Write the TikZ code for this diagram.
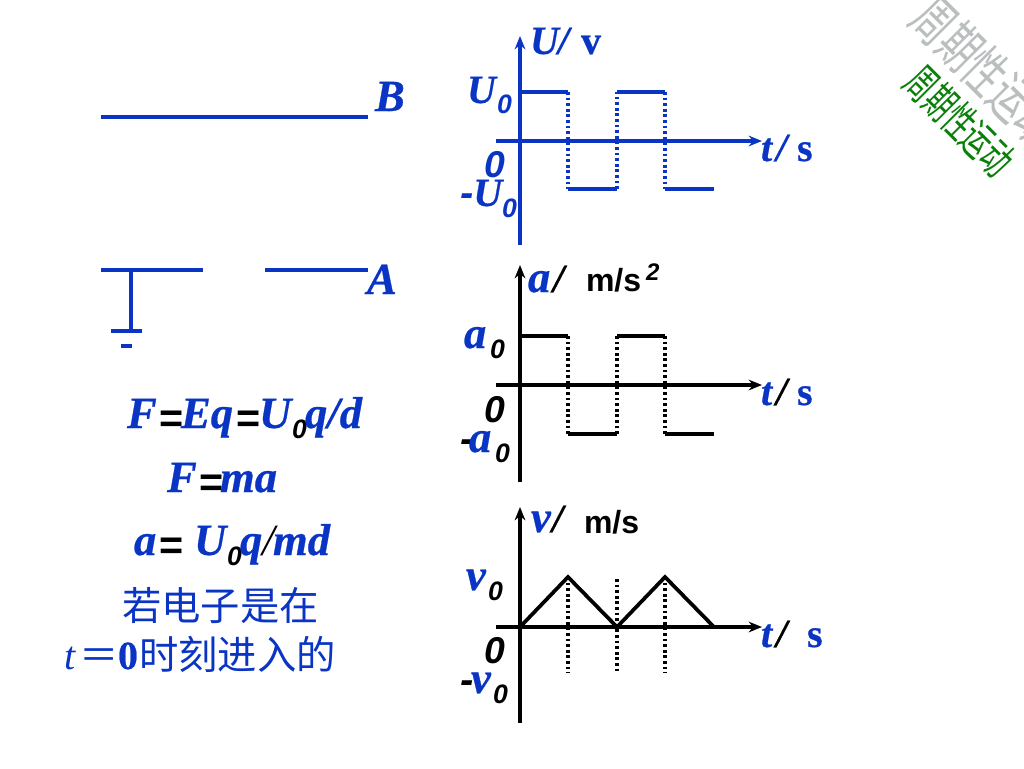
\documentclass[tikz,border=0pt]{standalone}
\usepackage{fontspec}
\setmainfont{Liberation Serif}[BoldItalicFeatures={FakeBold=0.6},BoldFeatures={FakeBold=0.6}]
\newfontfamily\sanf{Liberation Sans}
\newfontfamily\cjkf{Noto Sans CJK SC}
\definecolor{bl}{HTML}{0A35C4}
\definecolor{wgray}{HTML}{B9BEBE}
\definecolor{wgreen}{HTML}{0A800A}
\newcommand{\szA}{\fontsize{30}{30}\selectfont}
\newcommand{\szB}{\fontsize{20}{20}\selectfont}
\newcommand{\szC}{\fontsize{28}{28}\selectfont}
\newcommand{\szF}{\fontsize{33.5}{34}\selectfont}
\newcommand{\szU}{\fontsize{24}{24}\selectfont}
\newcommand{\szH}{\fontsize{29.5}{30}\selectfont}
\newcommand{\bi}[1]{{\color{bl}\bfseries\itshape #1}}
\newcommand{\bu}[1]{{\color{bl}\bfseries #1}}
\newcommand{\zs}[1]{{\sanf\bfseries\itshape #1}}
\newcommand{\bs}[1]{{\sanf\bfseries #1}}
\usetikzlibrary{arrows.meta}
\tikzset{
 lbl/.style={anchor=base west,inner sep=0pt,outer sep=0pt,font=\szA},
 bluelab/.style={lbl,text=bl},
 blacklab/.style={lbl,text=black},
 formula/.style={bluelab,font=\szF},
 eqsign/.style={blacklab,font=\sanf\bfseries\fontsize{31}{31}\selectfont},
 plate/.style={draw=bl,line width=3.4pt},
 thinplate/.style={draw=bl,line width=2.6pt},
 axisb/.style={draw=bl,line width=2.5pt,-{Stealth[length=10pt,width=8pt]}},
 axisk/.style={draw=black,line width=2.5pt,-{Stealth[length=10pt,width=8pt]}},
 wavB/.style={draw=bl,line width=2.8pt},
 wavK/.style={draw=black,line width=2.8pt},
 dotB/.style={draw=bl,line width=2.6pt,dash pattern=on 2.1pt off 2.1pt},
 dotK/.style={draw=black,line width=2.6pt,dash pattern=on 2.1pt off 2.1pt},
}
\begin{document}
\begin{tikzpicture}[x=0.75pt,y=-0.75pt]
\useasboundingbox (0,0) rectangle (1024,768);
% watermark
\node[inner sep=0pt,text=wgray,rotate=-45,font=\cjkf\fontsize{41}{41}\selectfont,xscale=0.66] (wm1) at (986,72) {周期性运动};
\node[inner sep=0pt,text=wgreen,rotate=-45,font=\cjkf\fontsize{32}{32}\selectfont,xscale=0.62] (wm2) at (960,121) {周期性运动};
% plates
\coordinate (b1) at (101,117); \coordinate (b2) at (368,117);
\coordinate (a1) at (101,270); \coordinate (a2) at (203,270);
\coordinate (a3) at (265,270); \coordinate (a4) at (368,270);
\coordinate (s1) at (131,270); \coordinate (s2) at (131,331);
\coordinate (g1) at (111,331); \coordinate (g2) at (142,331);
\coordinate (m1) at (121,346); \coordinate (m2) at (132,346);
\draw[plate] (b1)--(b2);
\draw[plate] (a1)--(a2);
\draw[plate] (a3)--(a4);
\draw[thinplate] (s1)--(s2);
\draw[thinplate] (g1)--(g2);
\draw[thinplate] (m1)--(m2);
\node[formula] (lB) at (375,111) {\bi{B}};
\node[formula] (lA) at (367,294) {\bi{A}};
% graph 1
\coordinate (o1b) at (520,245); \coordinate (o1t) at (520,36);
\coordinate (o1l) at (496,141); \coordinate (o1r) at (762,141);
\draw[axisb] (o1b)--(o1t);
\draw[axisb] (o1l)--(o1r);
\coordinate (p1a) at (520,92); \coordinate (p1b) at (568,92);
\coordinate (p1c) at (568,189); \coordinate (p1d) at (617,189);
\coordinate (p1e) at (617,92); \coordinate (p1f) at (665,92);
\coordinate (p1g) at (665,189); \coordinate (p1h) at (714,189);
\draw[wavB] (p1a)--(p1b); \draw[wavB] (p1c)--(p1d); \draw[wavB] (p1e)--(p1f); \draw[wavB] (p1g)--(p1h);
\draw[dotB] (p1b)--(p1c); \draw[dotB] (p1d)--(p1e); \draw[dotB] (p1f)--(p1g);
\node[bluelab] (u1) at (530,54) {\bi{U}};
\node[bluelab] (u2) at (558,54) {\bi{/}};
\node[bluelab] (u3) at (581,54) {\bu{v}};
\node[bluelab] (u0) at (467,103) {\bi{U}};
\node[bluelab,font=\szB] (u00) at (497,113) {\zs{0}};
\node[bluelab] (t1) at (761,161) {\bi{t}};
\node[bluelab] (t1s) at (776,161) {\bi{/}};
\node[bluelab] (t1u) at (797,161) {\bu{s}};
\node[bluelab,font=\szC] (z1) at (484,177) {\zs{0}};
\node[bluelab] (mu) at (460,206) {\zs{-}\bi{U}};
\node[bluelab,font=\szB] (mu0) at (502,217) {\zs{0}};
% graph 2
\coordinate (o2b) at (520,482); \coordinate (o2t) at (520,265);
\coordinate (o2l) at (496,385); \coordinate (o2r) at (762,385);
\draw[axisk] (o2b)--(o2t);
\draw[axisk] (o2l)--(o2r);
\coordinate (p2a) at (520,336); \coordinate (p2b) at (568,336);
\coordinate (p2c) at (568,434); \coordinate (p2d) at (617,434);
\coordinate (p2e) at (617,336); \coordinate (p2f) at (665,336);
\coordinate (p2g) at (665,434); \coordinate (p2h) at (714,434);
\draw[wavK] (p2a)--(p2b); \draw[wavK] (p2c)--(p2d); \draw[wavK] (p2e)--(p2f); \draw[wavK] (p2g)--(p2h);
\draw[dotK] (p2b)--(p2c); \draw[dotK] (p2d)--(p2e); \draw[dotK] (p2f)--(p2g);
\node[formula] (a1l) at (528,292) {\bi{a}};
\node[blacklab] (a1s) at (553,292) {\bfseries\itshape /};
\node[blacklab,font=\szU] (a1u) at (586,291) {\bs{m/s}};
\node[blacklab,font=\fontsize{18}{18}\selectfont] (a1e) at (646,280) {\zs{2}};
\node[formula] (a0) at (464,348) {\bi{a}};
\node[blacklab,font=\szB] (a00) at (490,358) {\zs{0}};
\node[bluelab] (t2) at (761,405) {\bi{t}};
\node[blacklab] (t2s) at (776,405) {\bfseries\itshape /};
\node[bluelab] (t2u) at (797,405) {\bu{s}};
\node[blacklab,font=\szC] (z2) at (484,422) {\zs{0}};
\node[blacklab] (ma) at (460,452) {\zs{-}};
\node[formula] (ma2) at (469,452) {\bi{a}};
\node[blacklab,font=\szB] (ma0) at (495,462) {\zs{0}};
% graph 3
\coordinate (o3b) at (520,723); \coordinate (o3t) at (520,507);
\coordinate (o3l) at (496,627); \coordinate (o3r) at (762,627);
\draw[axisk] (o3b)--(o3t);
\draw[axisk] (o3l)--(o3r);
\coordinate (p3a) at (520,627); \coordinate (p3b) at (568,577);
\coordinate (p3c) at (617,627); \coordinate (p3d) at (665,577);
\coordinate (p3e) at (714,627);
\draw[wavK,line join=miter] (p3a)--(p3b)--(p3c)--(p3d)--(p3e);
\coordinate (d1) at (568,673); \coordinate (d2t) at (617,579);
\coordinate (d2) at (617,673); \coordinate (d3) at (665,673);
\draw[dotK] (p3b)--(d1); \draw[dotK] (d2t)--(d2); \draw[dotK] (p3d)--(d3);
\node[formula] (v1) at (531,532) {\bi{v}};
\node[blacklab] (v1s) at (552,532) {\bfseries\itshape /};
\node[blacklab,font=\szU] (v1u) at (584,533) {\bs{m/s}};
\node[formula] (v0) at (466,590) {\bi{v}};
\node[blacklab,font=\szB] (v00) at (488,600) {\zs{0}};
\node[bluelab] (t3) at (761,647) {\bi{t}};
\node[blacklab] (t3s) at (776,647) {\bfseries\itshape /};
\node[bluelab] (t3u) at (807,647) {\bu{s}};
\node[blacklab,font=\szC] (z3) at (484,663) {\zs{0}};
\node[blacklab] (mv) at (460,693) {\zs{-}};
\node[formula] (mv2) at (471,693) {\bi{v}};
\node[blacklab,font=\szB] (mv0) at (493,703) {\zs{0}};
% formulas
\node[formula] (f1a) at (127,428) {\bi{F}};
\node[eqsign] (f1b) at (159,432) {=};
\node[formula] (f1c) at (181,428) {\bi{Eq}};
\node[eqsign] (f1d) at (236,432) {=};
\node[formula] (f1e) at (259,428) {\bi{U}};
\node[blacklab,font=\szB] (f1f) at (292,438) {\zs{0}};
\node[formula] (f1g) at (305,428) {\bi{q/d}};
\node[formula] (f2a) at (167,492) {\bi{F}};
\node[eqsign] (f2b) at (199,496) {=};
\node[formula] (f2c) at (220,492) {\bi{ma}};
\node[formula] (f3a) at (134,555) {\bi{a}};
\node[eqsign] (f3b) at (159,559) {=};
\node[formula] (f3c) at (194,555) {\bi{U}};
\node[blacklab,font=\szB] (f3d) at (227,565) {\zs{0}};
\node[formula] (f3e) at (240,555) {\bi{q}};
\node[blacklab,font=\szF] (f3f) at (262,555) {\itshape /};
\node[formula] (f3g) at (273,555) {\bi{md}};
\node[bluelab,font=\cjkf\szH] (c1) at (122,620) {若电子是在};
\node[bluelab] (c2a) at (64,669) {\itshape t};
\node[bluelab,font=\cjkf\szH] (c2b) at (79,669) {＝};
\node[bluelab] (c2c) at (118,669) {\bfseries 0};
\node[bluelab,font=\cjkf\szH] (c2d) at (139,669) {时刻进入的};
\end{tikzpicture}
\end{document}
